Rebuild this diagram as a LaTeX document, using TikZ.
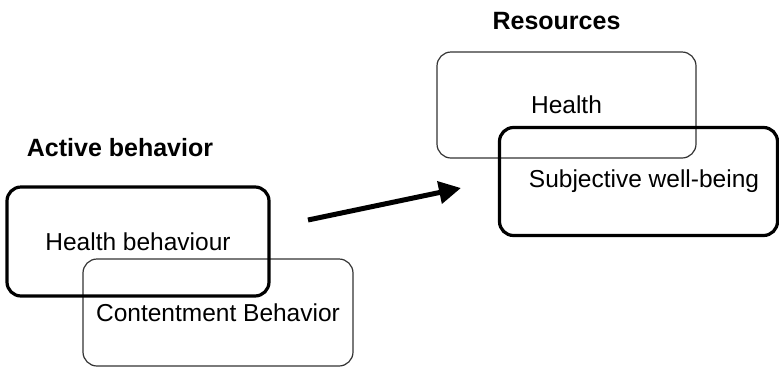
\documentclass[tikz,border=0pt]{standalone}
\usepackage{fontspec}
\setmainfont{Liberation Sans}
\usetikzlibrary{arrows.meta}
\begin{document}
\begin{tikzpicture}[x=1pt,y=-1pt,
  boxbase/.style={rounded corners=14pt, inner sep=0pt, font=\fontsize{24.5}{29}\selectfont},
  thickbox/.style={boxbase, draw=black, line width=3.2pt},
  thinbox/.style={boxbase, draw=black!80, line width=1.2pt},
  heading/.style={font=\fontsize{25}{30}\selectfont\bfseries, inner sep=0pt},
  flow/.style={line width=5pt, -{Triangle[length=22pt,width=22pt]}}]
  \useasboundingbox (0,0) rectangle (779,368);

  % left group: active behaviour
  \node[heading] (active) at (120,148) {Active behavior};
  \node[thinbox, minimum width=270pt, minimum height=107pt] (content) at (218,312.5) {\raisebox{-2.5pt}{Contentment Behavior}};
  \node[thickbox, minimum width=262pt, minimum height=109pt] (hb) at (138,241.5) {\raisebox{-1.5pt}{Health behaviour}};

  % right group: resources
  \node[heading] (res) at (556.5,21) {Resources};
  \node[thinbox, minimum width=259pt, minimum height=106pt] (health) at (566.5,105) {\raisebox{-2pt}{Health}};
  \node[thickbox, minimum width=278pt, minimum height=108pt] (swb) at (638.5,181.5) {\hspace{11pt}\raisebox{-0.5pt}{Subjective well-being}};

  % connector between the groups
  \coordinate (from) at (308,220);
  \coordinate (to) at (461,188);
  \draw[flow] (from) -- (to);
\end{tikzpicture}
\end{document}
